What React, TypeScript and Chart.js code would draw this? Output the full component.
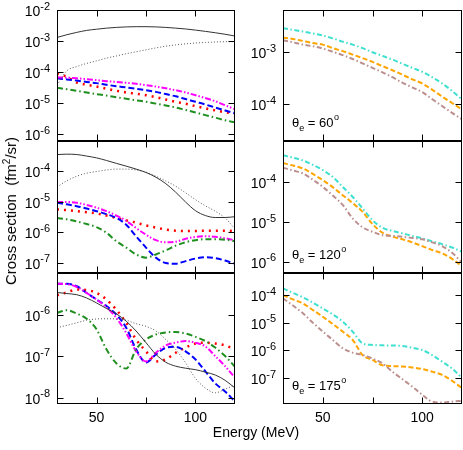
import React, { useEffect, useRef } from 'react';
import { Chart, registerables } from 'chart.js';
Chart.register(...registerables);

// ---------- data ----------
const ENERGY = [30, 35, 40, 45, 50, 55, 60, 65, 70, 75, 80, 85, 90, 95, 100, 105, 110, 115, 120];
const X_TICKS = [50, 75, 100];
const X_TICK_LABELS = [50, 100];
const THETA_ANGLES = [60, 120, 175];

// left column, theta 60
const L60_SOLID = [1.3e-3, 1.6e-3, 1.9e-3, 2.2e-3, 2.4e-3, 2.6e-3, 2.75e-3, 2.85e-3, 2.9e-3, 2.9e-3, 2.85e-3, 2.75e-3, 2.6e-3, 2.45e-3, 2.25e-3, 2.05e-3, 1.85e-3, 1.65e-3, 1.45e-3];
const L60_DOTTED = [3.8e-5, 1.1e-4, 1.5e-4, 1.9e-4, 2.3e-4, 2.8e-4, 3.3e-4, 3.9e-4, 4.5e-4, 5.2e-4, 6e-4, 6.8e-4, 7.5e-4, 8.1e-4, 8.6e-4, 9e-4, 9.3e-4, 9.5e-4, 9.6e-4];
const L60_RED = [9e-5, 7e-5, 4.6e-5, 3.9e-5, 3.4e-5, 2.9e-5, 2.5e-5, 2.2e-5, 2e-5, 1.8e-5, 1.55e-5, 1.3e-5, 1.1e-5, 9.5e-6, 8e-6, 6.8e-6, 5.8e-6, 5.1e-6, 4.6e-6];
const L60_BLUE = [6.3e-5, 5.8e-5, 5.3e-5, 4.8e-5, 4.4e-5, 3.9e-5, 3.5e-5, 3.2e-5, 2.9e-5, 2.6e-5, 2.3e-5, 1.95e-5, 1.65e-5, 1.35e-5, 1.1e-5, 9e-6, 7.2e-6, 5.8e-6, 4.7e-6];
const L60_MAGENTA = [6.8e-5, 6.6e-5, 6.3e-5, 5.9e-5, 5.5e-5, 5.1e-5, 4.8e-5, 4.5e-5, 4.2e-5, 3.8e-5, 3.4e-5, 3e-5, 2.6e-5, 2.2e-5, 1.8e-5, 1.45e-5, 1.15e-5, 8.5e-6, 6.3e-6];
const L60_GREEN = [3.1e-5, 2.8e-5, 2.5e-5, 2.2e-5, 1.95e-5, 1.75e-5, 1.55e-5, 1.38e-5, 1.23e-5, 1.1e-5, 9.6e-6, 8.4e-6, 7.2e-6, 6e-6, 5e-6, 4.1e-6, 3.4e-6, 2.8e-6, 2.4e-6];

// left column, theta 120
const L120_SOLID = [3.6e-4, 3.7e-4, 3.6e-4, 3.2e-4, 2.8e-4, 2.3e-4, 1.85e-4, 1.5e-4, 1.2e-4, 9.3e-5, 6.5e-5, 4e-5, 2.1e-5, 1e-5, 5.2e-6, 3.6e-6, 3.1e-6, 3.1e-6, 3.3e-6];
const L120_DOTTED = [3.1e-5, 5e-5, 7e-5, 8.8e-5, 1e-4, 1.12e-4, 1.2e-4, 1.2e-4, 1.12e-4, 9.5e-5, 7e-5, 4.9e-5, 3.3e-5, 2e-5, 1.2e-5, 7.5e-6, 5e-6, 3e-6, 1.3e-6];
const L120_RED = [5.7e-6, 5.4e-6, 5e-6, 4.6e-6, 4.2e-6, 3.6e-6, 3e-6, 2.5e-6, 2.1e-6, 1.7e-6, 1.45e-6, 1.25e-6, 1.15e-6, 1.12e-6, 1.12e-6, 1.15e-6, 1.15e-6, 1.15e-6, 1.1e-6];
const L120_BLUE = [9.4e-6, 8.4e-6, 7.3e-6, 6.1e-6, 5e-6, 4e-6, 3e-6, 1.8e-6, 7.5e-7, 3.2e-7, 1.5e-7, 1e-7, 9.5e-8, 1.15e-7, 1.4e-7, 1.55e-7, 1.45e-7, 1.2e-7, 9.5e-8];
const L120_MAGENTA = [1e-5, 1e-5, 9.4e-6, 8e-6, 6.5e-6, 5e-6, 3.6e-6, 2.4e-6, 1.4e-6, 8.5e-7, 5.6e-7, 4.8e-7, 5e-7, 6.2e-7, 7.2e-7, 7.5e-7, 7.2e-7, 6.5e-7, 5.5e-7];
const L120_GREEN = [3e-6, 2.7e-6, 2.3e-6, 1.9e-6, 1.5e-6, 9.8e-7, 5.2e-7, 3.2e-7, 1.9e-7, 1.5e-7, 1.9e-7, 2.6e-7, 3.7e-7, 4.8e-7, 5.6e-7, 6e-7, 6e-7, 5.8e-7, 5.2e-7];

// left column, theta 175
const L175_SOLID = [3.4e-6, 3.2e-6, 3e-6, 2.5e-6, 1.9e-6, 1.4e-6, 1.04e-6, 6.9e-7, 4e-7, 2.1e-7, 1.1e-7, 7.1e-8, 5.7e-8, 5.1e-8, 4.7e-8, 4.1e-8, 3.5e-8, 2.6e-8, 1.7e-8];
const L175_DOTTED = [4.8e-7, 5.5e-7, 6.3e-7, 7.3e-7, 7.8e-7, 7.9e-7, 7.8e-7, 7.3e-7, 6e-7, 5.2e-7, 4e-7, 2.5e-7, 1.45e-7, 6.9e-8, 2.9e-8, 1.7e-8, 1.3e-8, 1.6e-8, 2e-8];
const L175_RED = [2.9e-6, 3.4e-6, 4e-6, 3.9e-6, 3.3e-6, 2.3e-6, 1.3e-6, 6.3e-7, 2.5e-7, 1.3e-7, 7.4e-8, 8.3e-8, 1.2e-7, 1.6e-7, 2e-7, 2.1e-7, 2e-7, 1.8e-7, 1.45e-7];
const L175_BLUE = [5.5e-6, 5.5e-6, 4.8e-6, 3.3e-6, 2.3e-6, 1.6e-6, 1e-6, 4.8e-7, 1.45e-7, 7e-8, 1.1e-7, 1.58e-7, 1.67e-7, 1.3e-7, 8.3e-8, 4.3e-8, 2.2e-8, 1.4e-8, 8e-9];
const L175_MAGENTA = [5.5e-6, 5.4e-6, 4.6e-6, 3.3e-6, 2.3e-6, 1.5e-6, 8.3e-7, 3.6e-7, 1.3e-7, 7.4e-8, 1.2e-7, 1.8e-7, 2.1e-7, 2.3e-7, 2.1e-7, 1.7e-7, 1e-7, 5.7e-8, 3e-8];
const L175_GREEN = [1.1e-6, 1.27e-6, 1.05e-6, 7.9e-7, 4.4e-7, 1.45e-7, 6.7e-8, 5e-8, 1.45e-7, 2.5e-7, 3.3e-7, 3.7e-7, 3.8e-7, 3.5e-7, 2.9e-7, 2.3e-7, 1.6e-7, 1e-7, 5.5e-8];

// right column
const R60_CYAN = [2.9e-3, 2.7e-3, 2.5e-3, 2.3e-3, 2.1e-3, 1.85e-3, 1.6e-3, 1.4e-3, 1.2e-3, 1e-3, 8.5e-4, 7.2e-4, 6e-4, 5e-4, 4.2e-4, 3.3e-4, 2.5e-4, 1.8e-4, 1.23e-4];
const R60_ORANGE = [1.9e-3, 1.8e-3, 1.65e-3, 1.5e-3, 1.4e-3, 1.2e-3, 1.05e-3, 9e-4, 7.7e-4, 6.5e-4, 5.4e-4, 4.5e-4, 3.7e-4, 3e-4, 2.5e-4, 1.9e-4, 1.4e-4, 1.05e-4, 7.9e-5];
const R60_ROSY = [1.7e-3, 1.55e-3, 1.4e-3, 1.3e-3, 1.18e-3, 1.02e-3, 8.8e-4, 7.4e-4, 6.1e-4, 5e-4, 4.1e-4, 3.3e-4, 2.6e-4, 2.1e-4, 1.7e-4, 1.25e-4, 9.2e-5, 6.8e-5, 5.1e-5];

const R120_CYAN = [4.7e-4, 4.1e-4, 3.5e-4, 2.7e-4, 2e-4, 1.35e-4, 7.6e-5, 4.3e-5, 2.2e-5, 1.12e-5, 7.2e-6, 6e-6, 5.2e-6, 4.5e-6, 3.9e-6, 3.3e-6, 2.8e-6, 2.3e-6, 1.8e-6];
const R120_ORANGE = [3e-4, 2.6e-4, 2.2e-4, 1.6e-4, 1.12e-4, 7.5e-5, 4.7e-5, 3e-5, 1.8e-5, 8.9e-6, 5.4e-6, 4.3e-6, 3.7e-6, 3.1e-6, 2.5e-6, 2e-6, 1.65e-6, 1.2e-6, 7.9e-7];
const R120_ROSY = [2.3e-4, 1.95e-4, 1.65e-4, 1.15e-4, 7.6e-5, 4.6e-5, 2.7e-5, 1.24e-5, 7.4e-6, 5.7e-6, 4.7e-6, 4.5e-6, 4.3e-6, 4e-6, 3.7e-6, 3.1e-6, 2.5e-6, 1.7e-6, 9.6e-7];

const R175_CYAN = [1.74e-4, 1.2e-4, 8.3e-5, 5.3e-5, 3.3e-5, 2e-5, 1.1e-5, 4.8e-6, 1.8e-6, 1.57e-6, 1.52e-6, 1.5e-6, 1.45e-6, 1.25e-6, 1.03e-6, 6.8e-7, 3.9e-7, 2.2e-7, 1e-7];
const R175_ORANGE = [1e-4, 7e-5, 5e-5, 2.9e-5, 1.65e-5, 9e-6, 4.8e-6, 2.4e-6, 6.8e-7, 4.5e-7, 2.9e-7, 2.7e-7, 2.6e-7, 2.4e-7, 2.1e-7, 1.7e-7, 1.3e-7, 8e-8, 4.3e-8];
const R175_ROSY = [7.6e-5, 4.2e-5, 2.2e-5, 1e-5, 4.8e-6, 2.4e-6, 1.2e-6, 8.3e-7, 6.8e-7, 5.1e-7, 3.4e-7, 1.7e-7, 9.1e-8, 4.9e-8, 2.5e-8, 1.4e-8, 1.3e-8, 1.4e-8, 1.5e-8];

// ---------- styles / layout ----------
const FONT = '"Liberation Sans", Arial, Helvetica, sans-serif';

const STYLES: Record<string, { color: string; width: number; dash: number[] }> = {
  solid: { color: '#333333', width: 1, dash: [] },
  dotted: { color: '#555555', width: 1, dash: [1, 2] },
  red: { color: '#ff0000', width: 2.5, dash: [2, 5] },
  blue: { color: '#0000ff', width: 2, dash: [6, 3] },
  magenta: { color: '#ff00ff', width: 2, dash: [6, 2, 1.5, 2, 1.5, 2] },
  green: { color: '#1f8f1f', width: 2, dash: [6, 3, 1.5, 3] },
  cyan: { color: '#40e0d0', width: 2, dash: [5, 2.5, 1.5, 2.5] },
  orange: { color: '#ffa500', width: 2, dash: [5, 2.5] },
  rosy: { color: '#bc8f8f', width: 2, dash: [5, 2.5, 1.5, 2.5] },
};

const COLS = [
  { canvasLeft: 0, canvasWidth: 240, plotLeft: 57, plotRight: 235 },
  { canvasLeft: 240, canvasWidth: 223, plotLeft: 283, plotRight: 462 },
];
const ROWS = [
  { top: 10, bottom: 141 },
  { top: 141, bottom: 273 },
  { top: 273, bottom: 404 },
];

type Series = { values: number[]; style: string };
type PanelCfg = { col: number; row: number; ymin: number; ymax: number; exps: number[]; series: Series[] };

const PANELS: PanelCfg[] = [
  {
    col: 0, row: 0, ymin: 6e-7, ymax: 1e-2, exps: [-2, -3, -4, -5, -6],
    series: [
      { values: L60_SOLID, style: 'solid' }, { values: L60_DOTTED, style: 'dotted' },
      { values: L60_GREEN, style: 'green' }, { values: L60_MAGENTA, style: 'magenta' },
      { values: L60_BLUE, style: 'blue' }, { values: L60_RED, style: 'red' },
    ],
  },
  {
    col: 0, row: 1, ymin: 4.7e-8, ymax: 1e-3, exps: [-4, -5, -6, -7],
    series: [
      { values: L120_SOLID, style: 'solid' }, { values: L120_DOTTED, style: 'dotted' },
      { values: L120_GREEN, style: 'green' }, { values: L120_MAGENTA, style: 'magenta' },
      { values: L120_BLUE, style: 'blue' }, { values: L120_RED, style: 'red' },
    ],
  },
  {
    col: 0, row: 2, ymin: 7.2e-9, ymax: 1e-5, exps: [-6, -7, -8],
    series: [
      { values: L175_SOLID, style: 'solid' }, { values: L175_DOTTED, style: 'dotted' },
      { values: L175_GREEN, style: 'green' }, { values: L175_MAGENTA, style: 'magenta' },
      { values: L175_BLUE, style: 'blue' }, { values: L175_RED, style: 'red' },
    ],
  },
  {
    col: 1, row: 0, ymin: 1.95e-5, ymax: 6.5e-3, exps: [-3, -4],
    series: [
      { values: R60_ROSY, style: 'rosy' }, { values: R60_ORANGE, style: 'orange' }, { values: R60_CYAN, style: 'cyan' },
    ],
  },
  {
    col: 1, row: 1, ymin: 5.3e-7, ymax: 1.07e-3, exps: [-4, -5, -6],
    series: [
      { values: R120_ROSY, style: 'rosy' }, { values: R120_ORANGE, style: 'orange' }, { values: R120_CYAN, style: 'cyan' },
    ],
  },
  {
    col: 1, row: 2, ymin: 1.15e-8, ymax: 6.3e-4, exps: [-4, -5, -6, -7],
    series: [
      { values: R175_ROSY, style: 'rosy' }, { values: R175_ORANGE, style: 'orange' }, { values: R175_CYAN, style: 'cyan' },
    ],
  },
];

function drawPow(ctx: CanvasRenderingContext2D, rightX: number, y: number, exp: number) {
  ctx.font = `14px ${FONT}`;
  const wb = ctx.measureText('10').width;
  ctx.font = `11px ${FONT}`;
  const sup = String(exp);
  const ws = ctx.measureText(sup).width;
  const x0 = rightX - wb - ws;
  ctx.textAlign = 'left';
  ctx.textBaseline = 'alphabetic';
  ctx.font = `14px ${FONT}`;
  ctx.fillText('10', x0, y + 6);
  ctx.font = `11px ${FONT}`;
  ctx.fillText(sup, x0 + wb, y - 0.5);
}

function Panel({ cfg }: { cfg: PanelCfg }) {
  const ref = useRef<HTMLCanvasElement>(null);
  const col = COLS[cfg.col];
  const row = ROWS[cfg.row];
  const canvasTop = row.top - 10;
  const isBottom = cfg.row === 2;
  const canvasHeight = row.bottom - row.top + 20 + (isBottom ? 12 : 0);
  const pad = {
    left: col.plotLeft - col.canvasLeft,
    right: col.canvasLeft + col.canvasWidth - col.plotRight,
    top: 10,
    bottom: canvasTop + canvasHeight - row.bottom,
  };

  useEffect(() => {
    const canvas = ref.current;
    if (!canvas) return;
    const framePlugin = {
      id: 'frame' + cfg.col + cfg.row,
      afterDraw(chart: any) {
        const ctx: CanvasRenderingContext2D = chart.ctx;
        const a = chart.chartArea;
        const xs = chart.scales.x;
        const ys = chart.scales.y;
        ctx.save();
        ctx.strokeStyle = '#000';
        ctx.lineWidth = 1;
        ctx.setLineDash([]);
        const L = Math.round(a.left) + 0.5;
        const R = Math.round(a.right) - 0.5;
        const T = Math.round(a.top) + 0.5;
        const B = Math.round(a.bottom) - 0.5;
        ctx.strokeRect(L, T, R - L, B - T);
        const tl = 6;
        ctx.beginPath();
        for (const v of X_TICKS) {
          const px = Math.round(xs.getPixelForValue(v)) + 0.5;
          ctx.moveTo(px, T); ctx.lineTo(px, T + tl);
          ctx.moveTo(px, B); ctx.lineTo(px, B - tl);
        }
        for (const e of cfg.exps) {
          const py = Math.round(ys.getPixelForValue(Math.pow(10, e))) + 0.5;
          ctx.moveTo(L, py); ctx.lineTo(L + tl, py);
          ctx.moveTo(R, py); ctx.lineTo(R - tl, py);
        }
        ctx.stroke();
        ctx.fillStyle = '#000';
        for (const e of cfg.exps) {
          const py = ys.getPixelForValue(Math.pow(10, e));
          drawPow(ctx, a.left - 7, py, e);
        }
        if (isBottom) {
          ctx.font = `14px ${FONT}`;
          ctx.textAlign = 'center';
          ctx.textBaseline = 'alphabetic';
          for (const v of X_TICK_LABELS) {
            ctx.fillText(String(v), xs.getPixelForValue(v), a.bottom + 18);
          }
        }
        if (cfg.col === 1) {
          const angle = THETA_ANGLES[cfg.row];
          const by = a.bottom - 14.5;
          let x = a.left + 9;
          ctx.textAlign = 'left';
          ctx.font = `13px ${FONT}`;
          ctx.fillText('θ', x, by);
          x += ctx.measureText('θ').width;
          ctx.font = `9px ${FONT}`;
          ctx.fillText('e', x, by + 4.5);
          x += ctx.measureText('e').width;
          ctx.font = `13px ${FONT}`;
          const mid = ' = ' + angle;
          ctx.fillText(mid, x, by);
          x += ctx.measureText(mid).width + 0.5;
          ctx.font = `9px ${FONT}`;
          ctx.fillText('o', x, by - 6.5);
        }
        ctx.restore();
      },
    };
    const chart = new Chart(canvas, {
      type: 'line',
      data: {
        datasets: cfg.series.map((s) => {
          const st = STYLES[s.style];
          return {
            data: ENERGY.map((x, i) => ({ x, y: s.values[i] })),
            borderColor: st.color,
            borderWidth: st.width,
            borderDash: st.dash,
            borderCapStyle: 'butt',
            borderJoinStyle: 'round',
            pointRadius: 0,
            fill: false,
            cubicInterpolationMode: 'monotone',
            clip: 0,
          } as any;
        }),
      },
      options: {
        animation: false,
        responsive: false,
        maintainAspectRatio: false,
        events: [],
        layout: { padding: pad },
        plugins: { legend: { display: false }, tooltip: { enabled: false } },
        scales: {
          x: { type: 'linear', min: 30, max: 120, display: false },
          y: { type: 'logarithmic', min: cfg.ymin, max: cfg.ymax, display: false },
        },
      },
      plugins: [framePlugin],
    });
    return () => chart.destroy();
  }, []);

  return (
    <canvas
      ref={ref}
      width={col.canvasWidth}
      height={canvasHeight}
      style={{ position: 'absolute', left: col.canvasLeft, top: canvasTop, width: col.canvasWidth, height: canvasHeight }}
    />
  );
}

export default function App() {
  return (
    <div style={{ position: 'absolute', left: 0, top: 0, width: 463, height: 450, background: '#fff', overflow: 'hidden' }}>
      {PANELS.map((p, i) => (
        <Panel key={i} cfg={p} />
      ))}
      <div
        style={{
          position: 'absolute', left: 12, top: 211, transform: 'translate(-50%, -50%) rotate(-90deg)',
          whiteSpace: 'nowrap', font: `15px ${FONT}`, color: '#000', lineHeight: '16px',
        }}
      >
        Cross section&nbsp;&nbsp;(fm<span style={{ fontSize: 10, position: 'relative', top: -6 }}>2</span>/sr)
      </div>
      <div
        style={{
          position: 'absolute', left: 256, top: 432, transform: 'translate(-50%, -50%)',
          whiteSpace: 'nowrap', font: `14px ${FONT}`, color: '#000', lineHeight: '16px',
        }}
      >
        Energy (MeV)
      </div>
    </div>
  );
}
